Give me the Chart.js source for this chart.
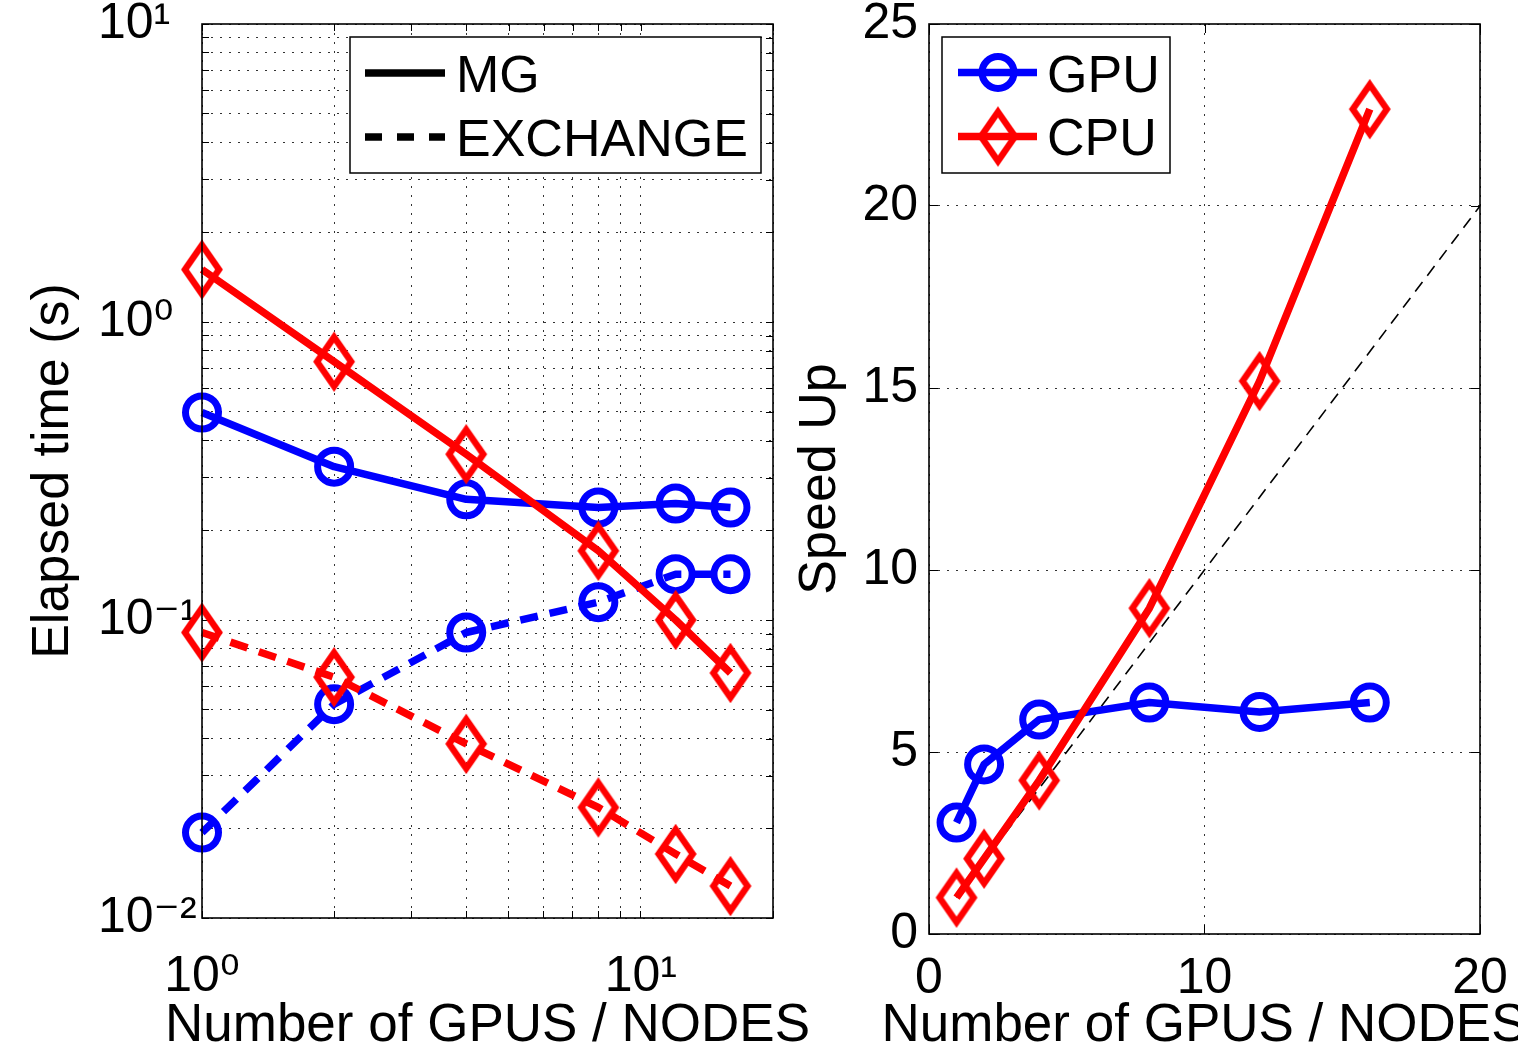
<!DOCTYPE html>
<html>
<head>
<meta charset="utf-8">
<script src="https://cdn.jsdelivr.net/npm/chart.js@4.4.1/dist/chart.umd.min.js"></script>
<style>
html, body { margin: 0; padding: 0; background: #fff; overflow: hidden; width: 1518px; height: 1054px; }
canvas { position: absolute; top: 0; }
#left { left: 0; }
#right { left: 780px; }
</style>
</head>
<body>
<canvas id="left" width="877" height="1054"></canvas>
<canvas id="right" width="848" height="1054"></canvas>
<script>
// ---------- data ----------
const nodes = [1, 2, 4, 8, 12, 16];
const mgGPU = [0.497, 0.327, 0.254, 0.2385, 0.246, 0.2385];
const mgCPU = [1.5, 0.736, 0.360, 0.1707, 0.100, 0.0664];
const exGPU = [0.01935, 0.0522, 0.0908, 0.1148, 0.1425, 0.1425];
const exCPU = [0.0908, 0.0643, 0.0384, 0.0235, 0.0164, 0.0128];
const speedGPU = [3.06, 4.66, 5.89, 6.36, 6.10, 6.36];
const speedCPU = [1.0, 2.07, 4.22, 8.95, 15.19, 22.66];
const idealX = [1, 20];
const idealY = [1, 20];

const logXTicks = [1, 2, 3, 4, 5, 6, 7, 8, 9, 10, 20];
const logYTicks = [0.01, 0.02, 0.03, 0.04, 0.05, 0.06, 0.07, 0.08, 0.09,
                   0.1, 0.2, 0.3, 0.4, 0.5, 0.6, 0.7, 0.8, 0.9,
                   1, 2, 3, 4, 5, 6, 7, 8, 9, 10];
const logXLabels = { 1: '10⁰', 10: '10¹' };
const logYLabels = { 0.01: '10⁻²', 0.1: '10⁻¹', 1: '10⁰', 10: '10¹' };
const speedXTicks = [0, 10, 20];
const speedYTicks = [0, 5, 10, 15, 20, 25];

const leftLegendLabels = ['MG', 'EXCHANGE'];
const rightLegendLabels = ['GPU', 'CPU'];
const xTitle = 'Number of GPUS / NODES';
const leftYTitle = 'Elapsed time (s)';
const rightYTitle = 'Speed Up';

// ---------- styling helpers ----------
const FONT = "'Liberation Sans', 'DejaVu Sans', Arial, sans-serif";
const RED = '#ff0000';
const BLUE = '#0000ff';
const LW = 7.5;
Chart.defaults.font.family = FONT;
Chart.defaults.color = '#000';

function pts(xs, ys) { return xs.map((x, i) => ({ x: x, y: ys[i] })); }

function diamondImage(color) {
  const c = document.createElement('canvas');
  c.width = 50; c.height = 64;
  const g = c.getContext('2d');
  g.strokeStyle = color; g.lineWidth = 6.5; g.lineJoin = 'miter'; g.miterLimit = 10;
  g.beginPath();
  g.moveTo(25, 7.5); g.lineTo(42, 32); g.lineTo(25, 56.5); g.lineTo(8, 32); g.closePath();
  g.stroke();
  return c;
}
const redDiamond = diamondImage(RED);

function noEdgePadding(s) { s.paddingTop = 0; s.paddingBottom = 0; s.paddingLeft = 0; s.paddingRight = 0; }

function framePlugin(tickLen) {
  return {
    id: 'frame',
    afterDatasetsDraw(chart) {
      const ctx = chart.ctx, a = chart.chartArea;
      const xs = chart.scales.x, ys = chart.scales.y;
      ctx.save();
      ctx.strokeStyle = '#000'; ctx.lineWidth = 1;
      ctx.beginPath();
      xs.ticks.forEach(t => { const p = Math.round(xs.getPixelForValue(t.value)) + 0.5; ctx.moveTo(p, a.top); ctx.lineTo(p, a.top + tickLen); });
      ys.ticks.forEach(t => { const p = Math.round(ys.getPixelForValue(t.value)) + 0.5; ctx.moveTo(a.right, p); ctx.lineTo(a.right - tickLen, p); });
      ctx.stroke();
      ctx.lineWidth = 1.6;
      ctx.strokeRect(a.left, a.top, a.right - a.left, a.bottom - a.top);
      ctx.restore();
    }
  };
}

function legendPlugin(cfg) {
  return {
    id: 'boxLegend',
    afterDraw(chart) {
      const ctx = chart.ctx;
      ctx.save();
      ctx.fillStyle = '#fff';
      ctx.fillRect(cfg.x, cfg.y, cfg.w, cfg.h);
      ctx.strokeStyle = '#000'; ctx.lineWidth = 1.5;
      ctx.strokeRect(cfg.x, cfg.y, cfg.w, cfg.h);
      cfg.items.forEach((it, i) => {
        const cy = cfg.rowY[i];
        ctx.save();
        ctx.strokeStyle = it.color; ctx.lineWidth = LW; ctx.lineCap = 'butt';
        ctx.setLineDash(it.dash || []);
        ctx.beginPath(); ctx.moveTo(cfg.lineX0, cy); ctx.lineTo(cfg.lineX1, cy); ctx.stroke();
        ctx.setLineDash([]);
        if (it.marker === 'circle') {
          ctx.lineWidth = 7; ctx.beginPath(); ctx.arc(cfg.markerX, cy, 16, 0, Math.PI * 2); ctx.stroke();
        } else if (it.marker) {
          ctx.drawImage(it.marker, cfg.markerX - it.marker.width / 2, cy - it.marker.height / 2);
        }
        ctx.restore();
        ctx.fillStyle = '#000';
        ctx.font = '52px ' + FONT;
        ctx.textAlign = 'left'; ctx.textBaseline = 'alphabetic';
        ctx.fillText(it.text, cfg.textX, cfg.baseY[i]);
      });
      ctx.restore();
    }
  };
}

const gridCommon = {
  color: 'rgba(0,0,0,0.8)', lineWidth: 1,
  drawTicks: true, tickColor: '#000', tickWidth: 1, tickBorderDash: []
};
const dotted = { display: false, dash: [2, 7] };

function circleSeries(label, data) {
  return { label: label, data: data, borderColor: BLUE, borderWidth: LW,
    pointStyle: 'circle', pointRadius: 16.5, pointBorderWidth: 7, pointBorderColor: BLUE,
    pointBackgroundColor: 'rgba(0,0,0,0)', clip: false, yAxisID: 'y' };
}
function diamondSeries(label, data) {
  return { label: label, data: data, borderColor: RED, borderWidth: LW,
    pointStyle: redDiamond, pointBorderColor: RED, clip: false, yAxisID: 'y' };
}

// ---------- left chart (log-log) ----------
new Chart(document.getElementById('left'), {
  type: 'line',
  data: {
    datasets: [
      diamondSeries('MG CPU', pts(nodes, mgCPU)),
      Object.assign(diamondSeries('EXCHANGE CPU', pts(nodes, exCPU)), { borderDash: [18, 12] }),
      circleSeries('MG GPU', pts(nodes, mgGPU)),
      Object.assign(circleSeries('EXCHANGE GPU', pts(nodes, exGPU)), { borderDash: [18, 12] })
    ]
  },
  options: {
    responsive: false, animation: false, devicePixelRatio: 1,
    events: [],
    elements: { line: { tension: 0, borderJoinStyle: 'round' } },
    layout: { padding: { top: 24, left: 98, right: 0, bottom: 0 } },
    plugins: {
      legend: { display: false }, tooltip: { enabled: false },
      title: { display: true, text: xTitle, position: 'bottom', color: '#000',
               font: { size: 53, weight: 'normal', lineHeight: 1 }, padding: { top: 0, bottom: 1 } }
    },
    scales: {
      x: {
        type: 'logarithmic', min: 1, max: 20,
        afterBuildTicks(s) { s.ticks = logXTicks.map(v => ({ value: v })); },
        afterFit(s) { s.height = 82; noEdgePadding(s); },
        ticks: { callback: v => logXLabels[v] || '', autoSkip: false, maxRotation: 0, minRotation: 0,
                 padding: 36, font: { size: 50 }, color: '#000' },
        grid: Object.assign({}, gridCommon, { tickLength: -7 }),
        border: dotted
      },
      y: {
        type: 'logarithmic', min: 0.01, max: 10,
        afterBuildTicks(s) { s.ticks = logYTicks.map(v => ({ value: v })); },
        afterFit(s) { s.width = 104; noEdgePadding(s); },
        ticks: { callback: v => logYLabels[v] || '', autoSkip: false, crossAlign: 'far',
                 padding: 20, font: { size: 50 }, color: '#000' },
        grid: Object.assign({}, gridCommon, { tickLength: -7 }),
        border: dotted,
        title: { display: true, text: leftYTitle, color: '#000', font: { size: 52, lineHeight: 1 },
                 padding: { top: -70, bottom: 0 } }
      },
      yPad: {
        type: 'linear', position: 'right', display: true,
        grid: { display: false, drawTicks: false }, ticks: { display: false }, border: { display: false },
        afterFit(s) { s.width = 104; noEdgePadding(s); }
      }
    }
  },
  plugins: [
    framePlugin(7),
    legendPlugin({
      x: 350, y: 37, w: 411, h: 136, lineX0: 365, lineX1: 445, markerX: 404, textX: 456,
      rowY: [73, 137], baseY: [91.5, 155.5],
      items: [
        { text: leftLegendLabels[0], color: '#000', dash: [] },
        { text: leftLegendLabels[1], color: '#000', dash: [17, 15] }
      ]
    })
  ]
});

// ---------- right chart (speed-up) ----------
new Chart(document.getElementById('right'), {
  type: 'line',
  data: {
    datasets: [
      diamondSeries('CPU', pts(nodes, speedCPU)),
      circleSeries('GPU', pts(nodes, speedGPU)),
      { label: 'Ideal', data: pts(idealX, idealY), borderColor: '#000', borderWidth: 1.6, borderDash: [12, 8],
        pointRadius: 0, clip: false, yAxisID: 'y' }
    ]
  },
  options: {
    responsive: false, animation: false, devicePixelRatio: 1,
    events: [],
    elements: { line: { tension: 0, borderJoinStyle: 'round' } },
    layout: { padding: { top: 24, left: 0, right: 0, bottom: 0 } },
    plugins: {
      legend: { display: false }, tooltip: { enabled: false },
      title: { display: true, text: xTitle, position: 'bottom', color: '#000',
               font: { size: 53, weight: 'normal', lineHeight: 1 }, padding: { top: 0, bottom: 1 } }
    },
    scales: {
      x: {
        type: 'linear', min: 0, max: 20,
        afterBuildTicks(s) { s.ticks = speedXTicks.map(v => ({ value: v })); },
        afterFit(s) { s.height = 66; noEdgePadding(s); },
        ticks: { autoSkip: false, maxRotation: 0, minRotation: 0, padding: 24, font: { size: 50 }, color: '#000' },
        grid: Object.assign({}, gridCommon, { tickLength: -9 }),
        border: dotted
      },
      y: {
        type: 'linear', min: 0, max: 25,
        afterBuildTicks(s) { s.ticks = speedYTicks.map(v => ({ value: v })); },
        afterFit(s) { s.width = 149; noEdgePadding(s); },
        ticks: { autoSkip: false, padding: 20, font: { size: 50 }, color: '#000' },
        grid: Object.assign({}, gridCommon, { tickLength: -9 }),
        border: dotted,
        title: { display: true, text: rightYTitle, color: '#000', font: { size: 52, lineHeight: 1 },
                 padding: { top: 15, bottom: 0 } }
      },
      yPad: {
        type: 'linear', position: 'right', display: true,
        grid: { display: false, drawTicks: false }, ticks: { display: false }, border: { display: false },
        afterFit(s) { s.width = 148; noEdgePadding(s); }
      }
    }
  },
  plugins: [
    framePlugin(9),
    legendPlugin({
      x: 162, y: 37, w: 228, h: 136, lineX0: 178, lineX1: 257, markerX: 218, textX: 267,
      rowY: [72.5, 136.5], baseY: [91.5, 154.5],
      items: [
        { text: rightLegendLabels[0], color: BLUE, marker: 'circle' },
        { text: rightLegendLabels[1], color: RED, marker: redDiamond }
      ]
    })
  ]
});
</script>
</body>
</html>
